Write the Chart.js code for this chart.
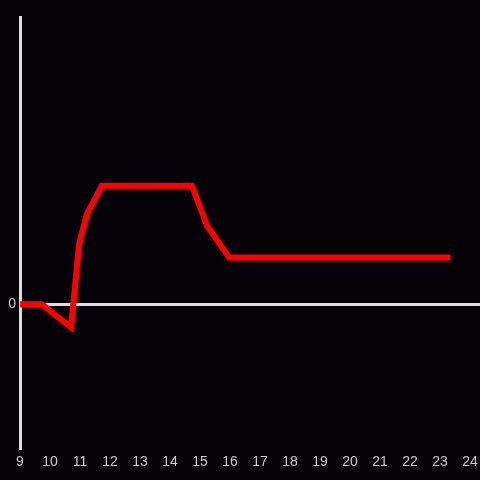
<!DOCTYPE html>
<html>
<head>
<meta charset="utf-8">
<script src="https://cdn.jsdelivr.net/npm/chart.js@4"></script>
<style>
  html, body { margin: 0; padding: 0; background: #050307; }
  #wrap { width: 480px; height: 480px; }
</style>
</head>
<body>
<div id="wrap"><canvas id="chart"></canvas></div>
<script>
// hours of day (x) and signal level (y)
const hours = [9, 9.73, 10.7, 10.97, 11.23, 11.73, 14.73, 15.23, 15.97, 23.25];
const levels = [0, 0, -0.16, 0.42, 0.63, 0.826, 0.826, 0.55, 0.326, 0.326];
const xTicks = [9, 10, 11, 12, 13, 14, 15, 16, 17, 18, 19, 20, 21, 22, 23, 24];
const yTicks = [0];

const axisColor = "#dddddd";
const labelColor = "#cccccc";

const points = hours.map((h, i) => ({ x: h, y: levels[i] }));

new Chart(document.getElementById("chart"), {
  type: "line",
  data: {
    datasets: [
      {
        data: points,
        borderColor: "#ff0000",
        borderWidth: 6,
        borderCapStyle: "square",
        pointRadius: 0,
        tension: 0,
      },
    ],
  },
  options: {
    responsive: true,
    maintainAspectRatio: false,
    animation: false,
    layout: { padding: { top: 17, right: 0, left: 0, bottom: 0 } },
    plugins: {
      legend: { display: false },
      tooltip: { enabled: false },
    },
    scales: {
      x: {
        type: "linear",
        min: 9,
        max: 24.333,
        afterBuildTicks: (axis) => {
          axis.ticks = xTicks.map((v) => ({ value: v }));
        },
        afterFit: (axis) => {
          axis.height = 32;
          axis.paddingLeft = 0;
          axis.paddingRight = 0;
        },
        ticks: {
          color: labelColor,
          font: { size: 14, family: "Liberation Sans" },
          padding: 6,
          maxRotation: 0,
          autoSkip: false,
        },
        grid: { display: false, drawTicks: false },
        border: { display: false },
      },
      y: {
        min: -1,
        max: 2,
        afterBuildTicks: (axis) => {
          axis.ticks = yTicks.map((v) => ({ value: v }));
        },
        afterFit: (axis) => {
          axis.width = 20;
          axis.paddingTop = 0;
          axis.paddingBottom = 0;
        },
        ticks: {
          color: labelColor,
          font: { size: 14, family: "Liberation Sans" },
          padding: 4,
        },
        grid: {
          color: axisColor,
          lineWidth: 3,
          drawTicks: false,
        },
        border: { display: true, color: axisColor, width: 3 },
      },
    },
  },
});
</script>
</body>
</html>
